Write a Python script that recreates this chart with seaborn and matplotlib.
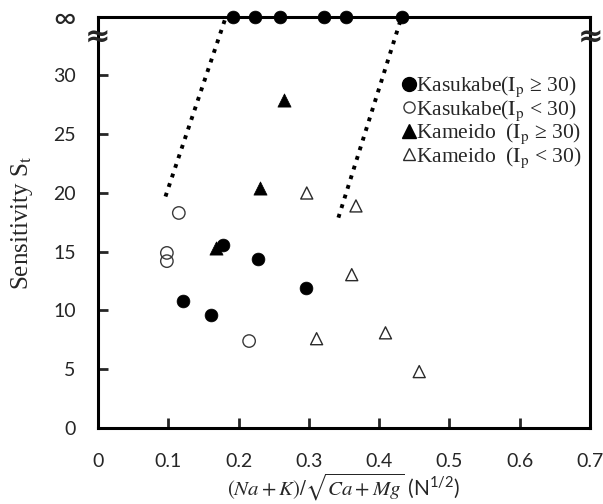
import matplotlib
matplotlib.use("Agg")
import matplotlib.pyplot as plt
import seaborn as sns
import pandas as pd
from matplotlib.lines import Line2D

INF = 35  # plotted position of the "infinity" row

# Kasukabe, Ip >= 30 (filled circles); INF = infinite sensitivity
kas_hi_x = [0.192, 0.223, 0.259, 0.321, 0.353, 0.432, 0.178, 0.227, 0.296, 0.121, 0.161]
kas_hi_y = [INF, INF, INF, INF, INF, INF, 15.6, 14.4, 11.9, 10.8, 9.6]
# Kasukabe, Ip < 30 (open circles)
kas_lo_x = [0.115, 0.098, 0.098, 0.215]
kas_lo_y = [18.3, 14.9, 14.2, 7.4]
# Kameido, Ip >= 30 (filled triangles)
kam_hi_x = [0.265, 0.230, 0.168]
kam_hi_y = [27.9, 20.4, 15.3]
# Kameido, Ip < 30 (open triangles)
kam_lo_x = [0.297, 0.367, 0.361, 0.311, 0.409, 0.457]
kam_lo_y = [20.0, 18.9, 13.05, 7.6, 8.1, 4.8]

# dotted boundary lines
left_line_x = [0.096, 0.182]
left_line_y = [19.7, INF]
right_line_x = [0.342, 0.432]
right_line_y = [17.9, INF]

xticks = [0, 0.1, 0.2, 0.3, 0.4, 0.5, 0.6, 0.7]
xtick_labels = ["0", "0.1", "0.2", "0.3", "0.4", "0.5", "0.6", "0.7"]
yticks = [0, 5, 10, 15, 20, 25, 30, INF]
ytick_labels = ["0", "5", "10", "15", "20", "25", "30", "∞"]

labels = ["Kasukabe($\\mathrm{I_p}$ ≥ 30)",
          "Kasukabe($\\mathrm{I_p}$ < 30)",
          "Kameido  ($\\mathrm{I_p}$ ≥ 30)",
          "Kameido  ($\\mathrm{I_p}$ < 30)"]

sns.set_style("white")
plt.rcParams["font.family"] = ["Lato", "DejaVu Sans"]
plt.rcParams["mathtext.fontset"] = "stix"

fig = plt.figure(figsize=(6.03, 5.04), dpi=100)
ax = fig.add_axes([0.1625, 0.1508, 0.816, 0.816])

ax.plot(left_line_x, left_line_y, color="black", lw=2.8, ls=(0, (1, 1.6)), clip_on=False)
ax.plot(right_line_x, right_line_y, color="black", lw=2.8, ls=(0, (1, 1.6)), clip_on=False)

sns.scatterplot(x=kas_hi_x, y=kas_hi_y, ax=ax, marker="o", s=85, color="black",
                edgecolor="black", linewidth=0.5, clip_on=False, zorder=5)
sns.scatterplot(x=kas_lo_x, y=kas_lo_y, ax=ax, marker="o", s=80, facecolor="none",
                edgecolor="#3a3a3a", linewidth=1.0, clip_on=False, zorder=5)
sns.scatterplot(x=kam_hi_x, y=kam_hi_y, ax=ax, marker="^", s=90, color="black",
                edgecolor="black", linewidth=0.5, clip_on=False, zorder=5)
sns.scatterplot(x=kam_lo_x, y=kam_lo_y, ax=ax, marker="^", s=75, facecolor="none",
                edgecolor="#2a2a2a", linewidth=1.0, clip_on=False, zorder=5)

ax.set_xlim(0, 0.7)
ax.set_ylim(0, INF)
ax.set_xticks(xticks)
ax.set_xticklabels(xtick_labels)
ax.set_yticks(yticks)
ax.set_yticklabels(ytick_labels)
ax.tick_params(axis="x", direction="in", length=7, width=2, pad=18, labelsize=14,
               top=False, bottom=True)
ax.tick_params(axis="y", direction="in", length=7, width=2, pad=16, labelsize=14,
               left=True, right=False)
ax.yaxis.get_major_ticks()[-1].tick1line.set_visible(False)
ax.get_yticklabels()[-1].set_fontsize(22)
for sp in ax.spines.values():
    sp.set_linewidth(2.2)
    sp.set_color("black")

ax.set_ylabel("Sensitivity S$_\\mathrm{t}$", fontsize=18, family=["Liberation Serif"])
ax.yaxis.set_label_coords(-0.128, 0.5)
ax.set_xlabel("$(Na + K)/\\sqrt{Ca + Mg}$ $\\mathregular{(N^{1/2})}$", fontsize=15)
ax.xaxis.set_label_coords(0.5, -0.106)

# axis break marks
for xb in (0.0, 0.7):
    ax.text(xb, 33.2, "≈", fontsize=22, fontweight="bold", ha="center", va="center",
            family=["DejaVu Sans"], clip_on=False, zorder=6)

handles = [
    Line2D([], [], ls="none", marker="o", ms=10, mfc="black", mec="black"),
    Line2D([], [], ls="none", marker="o", ms=8, mfc="none", mec="#3a3a3a", mew=1),
    Line2D([], [], ls="none", marker="^", ms=10, mfc="black", mec="black"),
    Line2D([], [], ls="none", marker="^", ms=8, mfc="none", mec="#2a2a2a", mew=1),
]
ax.legend(handles, labels, loc="upper right", bbox_to_anchor=(1.005, 0.885), frameon=False,
          handlelength=0.6, handletextpad=0.05, labelspacing=-0.05, borderpad=0,
          prop={"family": ["Liberation Serif", "DejaVu Serif"], "size": 15.5})

fig.savefig("out.png", dpi=100)
